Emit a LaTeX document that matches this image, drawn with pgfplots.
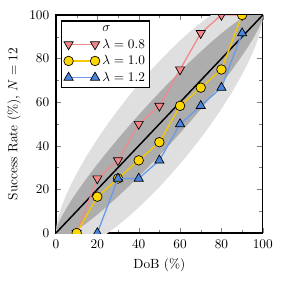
\documentclass[border=0pt]{standalone}
\usepackage{pgfplots}
\pgfplotsset{compat=1.18}
\definecolor{cred}{HTML}{F4868A}
\definecolor{credline}{HTML}{F08A8C}
\definecolor{cyel}{HTML}{FFD700}
\definecolor{cyelline}{HTML}{F5C800}
\definecolor{cblue}{HTML}{4A86E0}
\definecolor{cblueline}{HTML}{6A9BEB}
\begin{document}
\begin{tikzpicture}
\begin{axis}[
  width=155.6pt, height=164pt, scale only axis,
  xmin=0, xmax=100, ymin=0, ymax=100,
  xtick={0,20,40,60,80,100}, ytick={0,20,40,60,80,100},
  minor tick num=1,
  tick align=inside,
  major tick length=4pt, minor tick length=2.5pt,
  axis line style={line width=1pt},
  xlabel={DoB (\%)},
  ylabel={Success Rate (\%), $N=12$},
  xlabel style={at={(axis description cs:0.5,-0.146)}, anchor=center},
  ylabel style={at={(axis description cs:-0.203,0.5)}, anchor=center},
  xticklabel style={yshift=-2pt},
  yticklabel style={xshift=-1.5pt},
  clip marker paths=true,
  legend style={at={(0.025,0.975)}, anchor=north west, line width=1pt, draw=black, inner sep=1.5pt, row sep=0pt},
  legend cell align=left,
  legend image code/.code={\draw[#1, mark repeat=2, mark phase=1] plot coordinates {(0cm,0cm) (0.35cm,0cm) (0.7cm,0cm)};},
]
% 2-sigma band
\addplot[fill=gray!25, draw=none, forget plot] coordinates {
(0,0) (0.25,3.13) (0.5,4.57) (1,6.74) (2,10.08) (3,12.85) (5,17.58) (7.5,22.71) (10,27.32) (15,35.62) (20,43.09) (25,50) (30,56.46) (35,62.54) (40,68.28) (45,73.72) (50,78.87) (55,83.72) (60,88.28) (65,92.54) (70,96.46) (75,100) (80,103.09) (85,105.62) (90,107.32) (92.5,107.71) (95,107.58) (97,106.85) (98,106.08) (99,104.74) (99.5,103.57) (99.75,102.63) (100,100)
(99.75,96.87) (99.5,95.43) (99,93.26) (98,89.92) (97,87.15) (95,82.42) (92.5,77.29) (90,72.68) (85,64.38) (80,56.91) (75,50) (70,43.54) (65,37.46) (60,31.72) (55,26.28) (50,21.13) (45,16.28) (40,11.72) (35,7.46) (30,3.54) (25,0) (20,-3.09) (15,-5.62) (10,-7.32) (7.5,-7.71) (5,-7.58) (3,-6.85) (2,-6.08) (1,-4.74) (0.5,-3.57) (0.25,-2.63)
} -- cycle;
% 1-sigma band
\addplot[fill=gray!64, draw=none, forget plot] coordinates {
(0,0) (0.25,1.69) (0.5,2.54) (1,3.87) (2,6.04) (3,7.92) (5,11.29) (7.5,15.10) (10,18.66) (15,25.31) (20,31.55) (25,37.5) (30,43.23) (35,48.77) (40,54.14) (45,59.36) (50,64.43) (55,69.36) (60,74.14) (65,78.77) (70,83.23) (75,87.5) (80,91.55) (85,95.31) (90,98.66) (92.5,100.10) (95,101.29) (97,101.92) (98,102.04) (99,101.87) (99.5,101.54) (99.75,101.19) (100,100)
(99.75,98.31) (99.5,97.46) (99,96.13) (98,93.96) (97,92.08) (95,88.71) (92.5,84.90) (90,81.34) (85,74.69) (80,68.45) (75,62.5) (70,56.77) (65,51.23) (60,45.86) (55,40.64) (50,35.57) (45,30.64) (40,25.86) (35,21.23) (30,16.77) (25,12.5) (20,8.45) (15,4.69) (10,1.34) (7.5,-0.10) (5,-1.29) (3,-1.92) (2,-2.04) (1,-1.87) (0.5,-1.54) (0.25,-1.19)
} -- cycle;
\addplot[black, line width=1.1pt, forget plot] coordinates {(0,0) (100,100)};
\addlegendimage{empty legend}
\addlegendentry{$\sigma$}
\addplot[credline, line width=1pt, mark=triangle*, mark size=4pt, mark options={rotate=180, fill=cred, draw=black, line width=0.5pt}]
 coordinates {(10,0) (20,25) (30,33.33) (40,50) (50,58.33) (60,75) (70,91.67) (80,100) (90,100)};
\addlegendentry{$\lambda=0.8$}
\addplot[cyelline, line width=1pt, mark=*, mark size=3.6pt, mark options={fill=cyel, draw=black, line width=0.5pt}]
 coordinates {(10,0) (20,16.67) (30,25) (40,33.33) (50,41.67) (60,58.33) (70,66.67) (80,75) (90,100)};
\addlegendentry{$\lambda=1.0$}
\addplot[cblueline, line width=1pt, mark=triangle*, mark size=4pt, mark options={fill=cblue, draw=black, line width=0.5pt}]
 coordinates {(20,0) (30,25) (40,25) (50,33.33) (60,50) (70,58.33) (80,66.67) (90,91.67)};
\addlegendentry{$\lambda=1.2$}
\node[anchor=center] at (rel axis cs:-0.188,-0.146) {(a)};
\coordinate (bl) at (rel axis cs:0,0);
\coordinate (tr) at (rel axis cs:1,1);
\end{axis}
\path (bl) ++(-42.1pt,-37.6pt) coordinate (a1);
\path (tr) ++(15pt,11.3pt) coordinate (a2);
\pgfresetboundingbox
\path (a1) rectangle (a2);
\end{tikzpicture}
\end{document}
